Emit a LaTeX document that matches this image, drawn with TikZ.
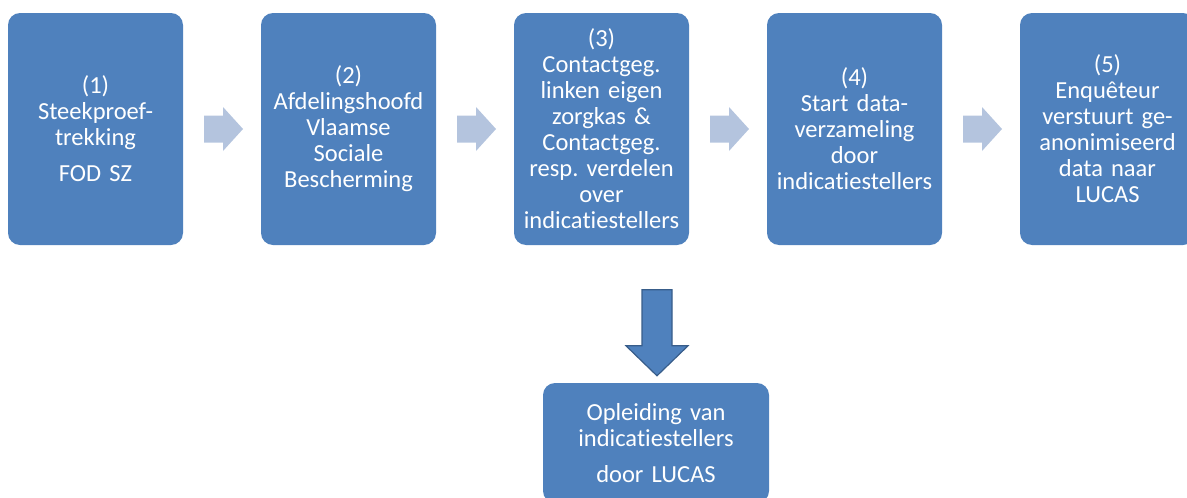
\documentclass[tikz,border=0pt]{standalone}
\usepackage{fontspec}
\setmainfont{Carlito}[Ligatures=NoCommon]
\usetikzlibrary{calc}
\definecolor{boxblue}{RGB}{79,129,189}
\definecolor{boxedge}{RGB}{56,93,138}
\definecolor{arrlight}{RGB}{180,196,222}
\begin{document}
\begin{tikzpicture}[x=1pt,y=-1pt,
  stepbox/.style={rectangle, rounded corners=12pt, fill=boxblue, draw=none,
    text=white, minimum width=175pt, minimum height=232pt, text width=172pt,
    inner sep=0pt, align=center, font=\fontsize{24.5}{26}\selectfont\frenchspacing},
  rarr/.pic={\fill[arrlight] (-19.5,-13.5) -- (-0.5,-13.5) -- (-0.5,-22) -- (19.5,0)
    -- (-0.5,22) -- (-0.5,13.5) -- (-19.5,13.5) -- cycle;},
  darr/.style={fill=boxblue, draw=boxedge, line width=1.2pt, line join=miter}]
\useasboundingbox (0,0) rectangle (1187,498);
\clip (0,0) rectangle (1187,498);
\node[stepbox] (b1) at (95.5,129) {(1)\\Steekproef-\\trekking\\[10pt]FOD SZ};
\node[stepbox] (b2) at (348.5,129) {(2)\\Afdelingshoofd\\Vlaamse\\Sociale\\Bescherming};
\node[stepbox] (b3) at (601.5,129) {(3)\\Contactgeg.\\linken eigen\\zorgkas \&\\Contactgeg.\\resp. verdelen\\over\\indicatiestellers};
\node[stepbox] (b4) at (854.5,129) {(4)\\Start data-\\verzameling\\door\\indicatiestellers};
\node[stepbox] (b5) at (1107.5,129) {(5)\\Enquêteur\\verstuurt ge-\\anonimiseerd\\data naar\\LUCAS};
\node[stepbox, minimum width=226pt, minimum height=120pt, text width=216pt] (ob) at (656,443)
  {Opleiding van\\indicatiestellers\\[10pt]door LUCAS};
\path ($(b1.east)!0.5!(b2.west)+(1.5,0)$) pic {rarr};
\path ($(b2.east)!0.5!(b3.west)+(1.5,0)$) pic {rarr};
\path ($(b3.east)!0.5!(b4.west)+(1.5,0)$) pic {rarr};
\path ($(b4.east)!0.5!(b5.west)+(1.5,0)$) pic {rarr};
\draw[darr] ($(ob.north)+(1,-7)$) coordinate (tip) -- ++(-31,-30) -- ++(16,0) -- ++(0,-56)
  -- ++(30,0) -- ++(0,56) -- ++(16,0) -- cycle;
\end{tikzpicture}
\end{document}
